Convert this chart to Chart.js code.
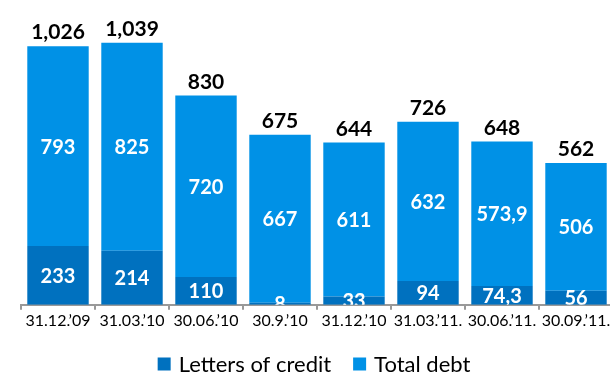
<!DOCTYPE html>
<html>
<head>
<meta charset="utf-8">
<script src="https://cdn.jsdelivr.net/npm/chart.js@4/dist/chart.umd.min.js"></script>
<style>
  html, body { margin: 0; padding: 0; background: #fff; overflow: hidden; }
  #wrap { width: 614px; height: 376px; }
</style>
</head>
<body>
<div id="wrap"><canvas id="debtCanvas"></canvas></div>
<script>
// quarter-end dates
const periods = ["31.12.’09", "31.03.’10", "30.06.’10", "30.9.’10", "31.12.’10", "31.03.’11.", "30.06.’11.", "30.09.’11."];
// letters of credit (bottom segment)
const lettersOfCredit = [233, 214, 110, 8, 33, 94, 74.3, 56];
// total debt (top segment)
const totalDebt = [793, 825, 720, 667, 611, 632, 573.9, 506];

const darkBlue = "#0071BF";
const lightBlue = "#0091E6";
const font = "Lato";

// 573.9 -> "573,9"
function fmtSegment(v) {
  return String(v).replace(".", ",");
}
// 1026 -> "1,026"
function fmtTotal(v) {
  return Math.round(v).toLocaleString("en-US");
}

// values inside the bars and the sum above each bar
const labelPlugin = {
  id: "barLabels",
  afterDatasetsDraw(chart) {
    const ctx = chart.ctx;
    const area = chart.chartArea;
    ctx.save();
    ctx.beginPath();
    ctx.rect(area.left, area.top, area.right - area.left, area.bottom - area.top);
    ctx.clip();
    ctx.fillStyle = "#fff";
    ctx.font = "bold 20px " + font;
    ctx.textAlign = "center";
    ctx.textBaseline = "middle";
    chart.data.datasets.forEach((ds, i) => {
      chart.getDatasetMeta(i).data.forEach((bar, j) => {
        const y = (bar.y + bar.base) / 2;
        ctx.fillText(fmtSegment(ds.data[j]), bar.x, y + 1);
      });
    });
    ctx.restore();

    ctx.save();
    ctx.fillStyle = "#000";
    ctx.font = "bold 21px " + font;
    ctx.textAlign = "center";
    ctx.textBaseline = "bottom";
    const top = chart.getDatasetMeta(1).data;
    top.forEach((bar, j) => {
      const sum = lettersOfCredit[j] + totalDebt[j];
      ctx.fillText(fmtTotal(sum), bar.x, bar.y - 3);
    });
    ctx.restore();
  }
};

// legend row under the axis
const legendPlugin = {
  id: "bottomLegend",
  afterDraw(chart) {
    const ctx = chart.ctx;
    const box = 13, gap = 8, spacing = 22;
    const y = 364;
    ctx.save();
    ctx.font = "22px " + font;
    ctx.textBaseline = "middle";
    const items = chart.data.datasets.map(ds => ({
      text: ds.label,
      color: ds.backgroundColor,
      w: ctx.measureText(ds.label).width
    }));
    let total = items.reduce((s, it) => s + box + gap + it.w, 0) + spacing * (items.length - 1);
    let x = 314 - total / 2;
    items.forEach(it => {
      ctx.fillStyle = it.color;
      ctx.fillRect(x, y - box / 2, box, box);
      x += box + gap;
      ctx.fillStyle = "#000";
      ctx.fillText(it.text, x, y + 1);
      x += it.w + spacing;
    });
    ctx.restore();
  }
};

const ctx = document.getElementById("debtCanvas").getContext("2d");
new Chart(ctx, {
  type: "bar",
  data: {
    labels: periods,
    datasets: [
      {
        label: "Letters of credit",
        data: lettersOfCredit,
        backgroundColor: darkBlue,
        barPercentage: 0.83,
        categoryPercentage: 1
      },
      {
        label: "Total debt",
        data: totalDebt,
        backgroundColor: lightBlue,
        barPercentage: 0.83,
        categoryPercentage: 1
      }
    ]
  },
  options: {
    responsive: true,
    maintainAspectRatio: false,
    animation: false,
    layout: { padding: { left: 21, right: 1, top: 0, bottom: 45 } },
    plugins: {
      legend: { display: false },
      tooltip: { enabled: false }
    },
    scales: {
      x: {
        stacked: true,
        grid: {
          offset: true,
          drawOnChartArea: false,
          color: "#999",
          tickLength: 5,
          lineWidth: 2
        },
        border: { color: "#999", width: 2 },
        ticks: {
          color: "#000",
          font: { family: font, size: 16 },
          padding: 1,
          maxRotation: 0,
          autoSkip: false
        }
      },
      y: {
        stacked: true,
        display: false,
        min: 0,
        max: 1209
      }
    }
  },
  plugins: [labelPlugin, legendPlugin]
});
</script>
</body>
</html>
